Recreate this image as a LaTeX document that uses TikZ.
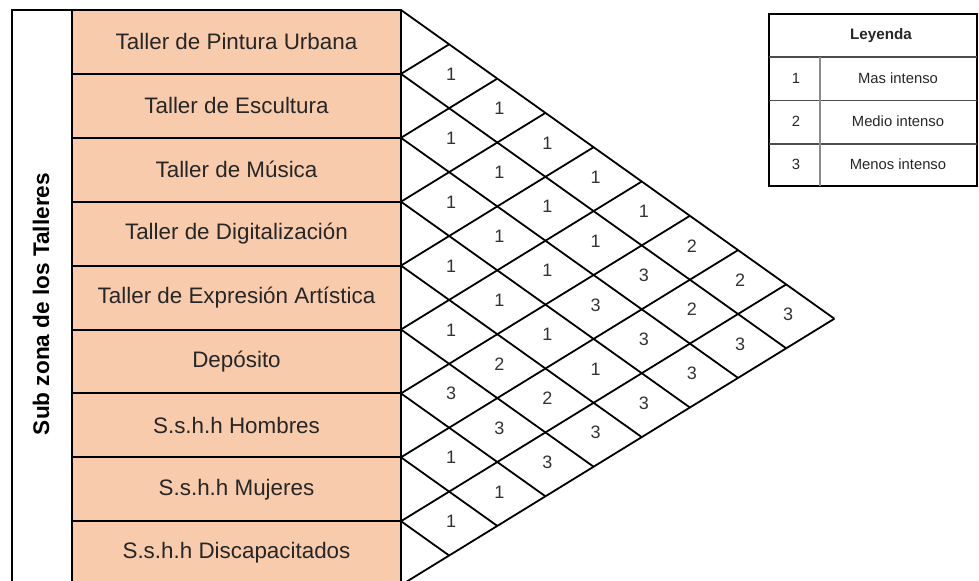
\documentclass[tikz,border=0pt]{standalone}
\usepackage{fontspec}
\setmainfont{Liberation Sans}
\definecolor{naranja}{HTML}{F8CBAD}
\begin{document}
\begin{tikzpicture}[x=0.5pt,y=-0.5pt,
  taller/.style={draw,fill=naranja,line width=1pt,minimum width=164.5pt,minimum height=31.95pt,inner sep=0pt,font=\fontsize{11.2}{13}\selectfont,text=black!85},
  valor/.style={inner sep=0pt,font=\fontsize{9}{10}\selectfont,text=black!80},
  rombo/.style={line width=0.9pt},
  ley/.style={inner sep=0pt,font=\fontsize{7.4}{9}\selectfont,text=black!85}]
  \useasboundingbox (0,0) rectangle (979,580);
  \begin{scope}
    \clip (0,0) rectangle (979,580);
    \draw[line width=1.2pt] (12,10) rectangle (72,585);
    \node[rotate=90,font=\bfseries\fontsize{11.3}{13}\selectfont] (titulo) at (41,304) {Sub zona de los Talleres};
    \foreach \i/\t in {1/Taller de Pintura Urbana,2/Taller de Escultura,3/Taller de Música,
      4/Taller de Digitalización,5/Taller de Expresión Artística,6/Depósito,
      7/S.s.h.h Hombres,8/S.s.h.h Mujeres,9/S.s.h.h Discapacitados}
      \node[taller] (t\i) at (236.5,{10+(\i-0.5)*63.9}) {\t};
    \foreach \a in {0,...,9}
      \foreach \b in {\a,...,9}
        \coordinate (p\a-\b) at ({401+(\b-\a)*48.15},{10+\a*63.9+34.3*(\b-\a)});
    \foreach \k in {0,...,8} \draw[rombo] (p\k-\k) -- (p\k-9);
    \foreach \k in {1,...,9} \draw[rombo] (p\k-\k) -- (p0-\k);
    \foreach \d/\vals in {1/{1,1,1,1,1,3,1,1},2/{1,1,1,1,2,3,1},3/{1,1,1,1,2,3},
      4/{1,1,3,1,3},5/{1,3,3,3},6/{2,2,3},7/{2,3},8/{3}}
      \foreach \v [count=\i] in \vals {
        \pgfmathtruncatemacro\j{\i+\d}
        \node[valor] (n\i-\j) at ({403+\d*48.15},{8+(\i-0.5)*63.9+34.3*\d}) {\v};
      }
  \end{scope}
  \draw[line width=0.9pt] (769,14) rectangle (977,186);
  \draw[black!70,line width=0.6pt] (769,57) -- (977,57) (769,100.5) -- (977,100.5) (769,144) -- (977,144);
  \draw[black!45,line width=0.6pt] (820,57) -- (820,186);
  \node[ley,font=\bfseries\fontsize{7.6}{9}\selectfont] (leyenda) at (881,35.5) {Leyenda};
  \foreach \i/\t in {1/Mas intenso,2/Medio intenso,3/Menos intenso} {
    \node[ley] (l\i) at (796,{57+(\i-0.5)*43}) {\i};
    \node[ley] (d\i) at (898,{57+(\i-0.5)*43}) {\t};
  }
\end{tikzpicture}
\end{document}
